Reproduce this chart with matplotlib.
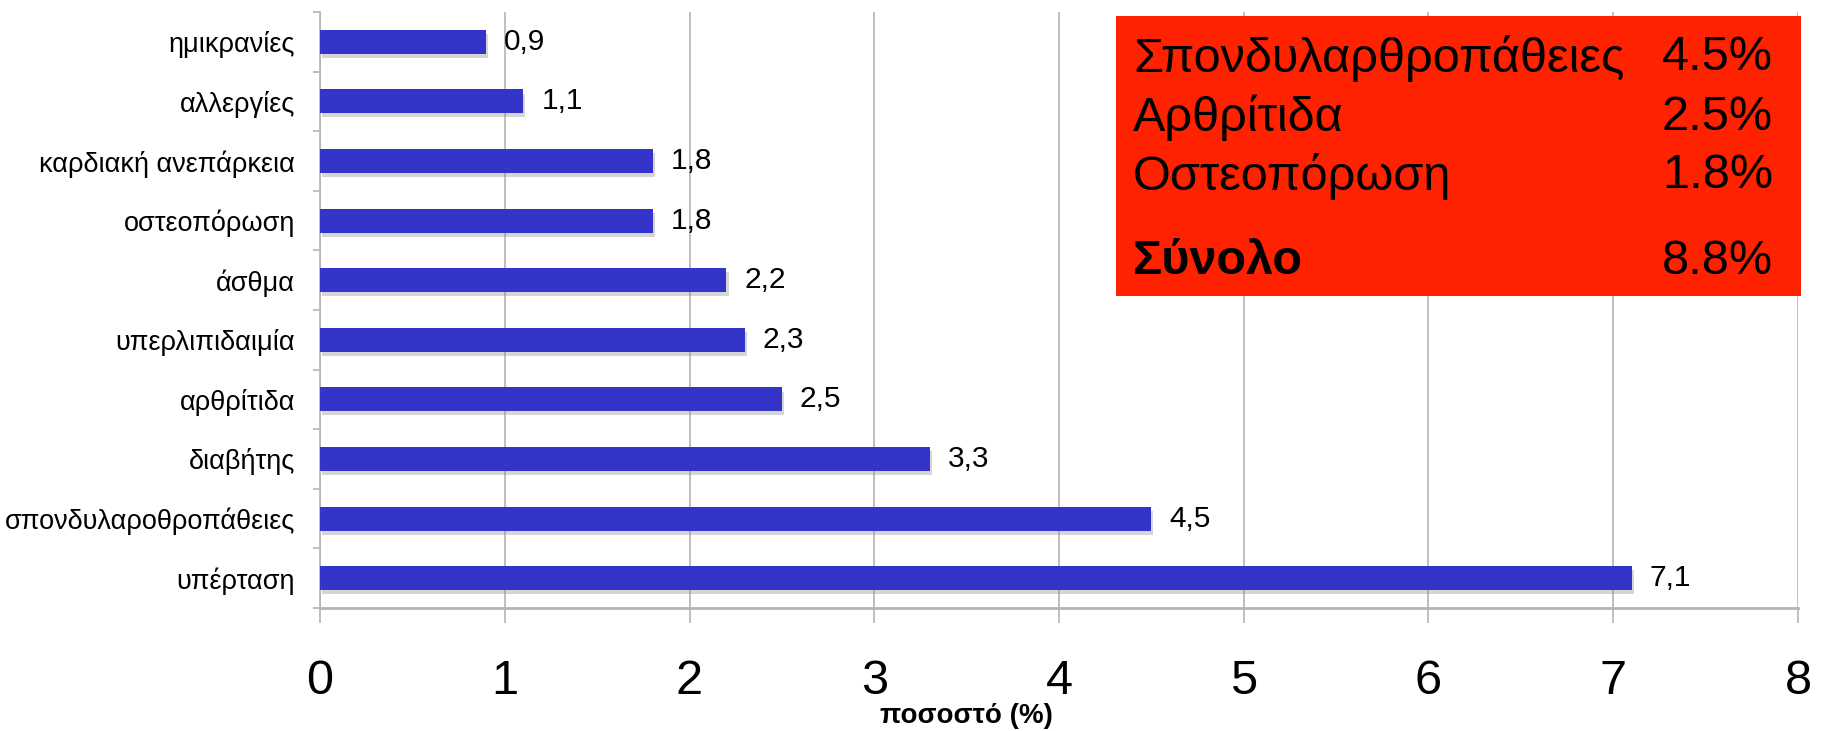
import matplotlib.pyplot as plt
import matplotlib.patheffects as pe
from matplotlib.patches import Rectangle
import numpy as np

plt.rcParams['font.family'] = ['Liberation Sans', 'DejaVu Sans']

categories = ['ημικρανίες', 'αλλεργίες', 'καρδιακή ανεπάρκεια', 'οστεοπόρωση',
              'άσθμα', 'υπερλιπιδαιμία', 'αρθρίτιδα', 'διαβήτης',
              'σπονδυλαροθροπάθειες', 'υπέρταση']
values = [0.9, 1.1, 1.8, 1.8, 2.2, 2.3, 2.5, 3.3, 4.5, 7.1]
x_ticks = [0, 1, 2, 3, 4, 5, 6, 7, 8]

box_names = ['Σπονδυλαρθροπάθειες', 'Αρθρίτιδα', 'Οστεοπόρωση']
box_values = ['4.5%', '2.5%', '1.8%']
total_name = 'Σύνολο'
total_value = '8.8%'

W, H = 1822, 731
fig = plt.figure(figsize=(W / 100, H / 100), dpi=100)
ax = fig.add_axes([320 / W, (H - 608) / H, (1798 - 320) / W, (608 - 12) / H])

grid_col = '#b4b4b4'
y = np.arange(len(categories))
bars = ax.barh(y, values, height=0.40, color='#3434c8', zorder=3)
for b in bars:
    b.set_path_effects([pe.SimplePatchShadow(offset=(1.5, -3), shadow_rgbFace='#888888', alpha=0.35),
                        pe.Normal()])

for yi, v in zip(y, values):
    ax.annotate(f'{v:.1f}'.replace('.', ','), (v, yi), xytext=(13, 0),
                textcoords='offset points', va='center', ha='left', fontsize=21.5)

ax.set_xlim(0, 8)
ax.set_ylim(len(categories) - 0.5, -0.5)
ax.set_xticks(x_ticks)
ax.set_xticklabels([str(t) for t in x_ticks], fontsize=35)
ax.set_yticks(y)
ax.set_yticklabels(categories, fontsize=19.5)
ax.set_yticks(np.arange(len(categories) + 1) - 0.5, minor=True)
ax.tick_params(axis='y', which='major', length=0, pad=18)
ax.tick_params(axis='y', which='minor', length=5, width=1.2, color=grid_col, direction='out')
ax.tick_params(axis='x', which='major', length=11, width=1.2, color=grid_col, pad=26)
ax.xaxis.grid(True, color=grid_col, linewidth=1.2, zorder=0)
ax.set_axisbelow(True)

for s in ['top', 'right']:
    ax.spines[s].set_visible(False)
ax.spines['left'].set_color(grid_col)
ax.spines['left'].set_linewidth(1.2)
ax.spines['bottom'].set_color(grid_col)
ax.spines['bottom'].set_linewidth(2)

fig.text(966 / W, 1 - 716 / H, 'ποσοστό (%)', fontsize=20, fontweight='bold',
         ha='center', va='center')

# red summary box
box = Rectangle((1116 / W, 1 - 296 / H), 685 / W, 280 / H, transform=fig.transFigure,
                facecolor='#ff2200', edgecolor='none', zorder=5)
fig.add_artist(box)
line_y = [58, 118, 176]
for name, val, yy in zip(box_names, box_values, line_y):
    fig.text(1133 / W, 1 - yy / H, name, fontsize=35, va='center', ha='left', zorder=6)
    fig.text(1773 / W, 1 - yy / H, val, fontsize=35, va='center', ha='right', zorder=6)
fig.text(1133 / W, 1 - 262 / H, total_name, fontsize=35, fontweight='bold', va='center', ha='left', zorder=6)
fig.text(1773 / W, 1 - 262 / H, total_value, fontsize=35, va='center', ha='right', zorder=6)

fig.savefig('out.png', dpi=100)
